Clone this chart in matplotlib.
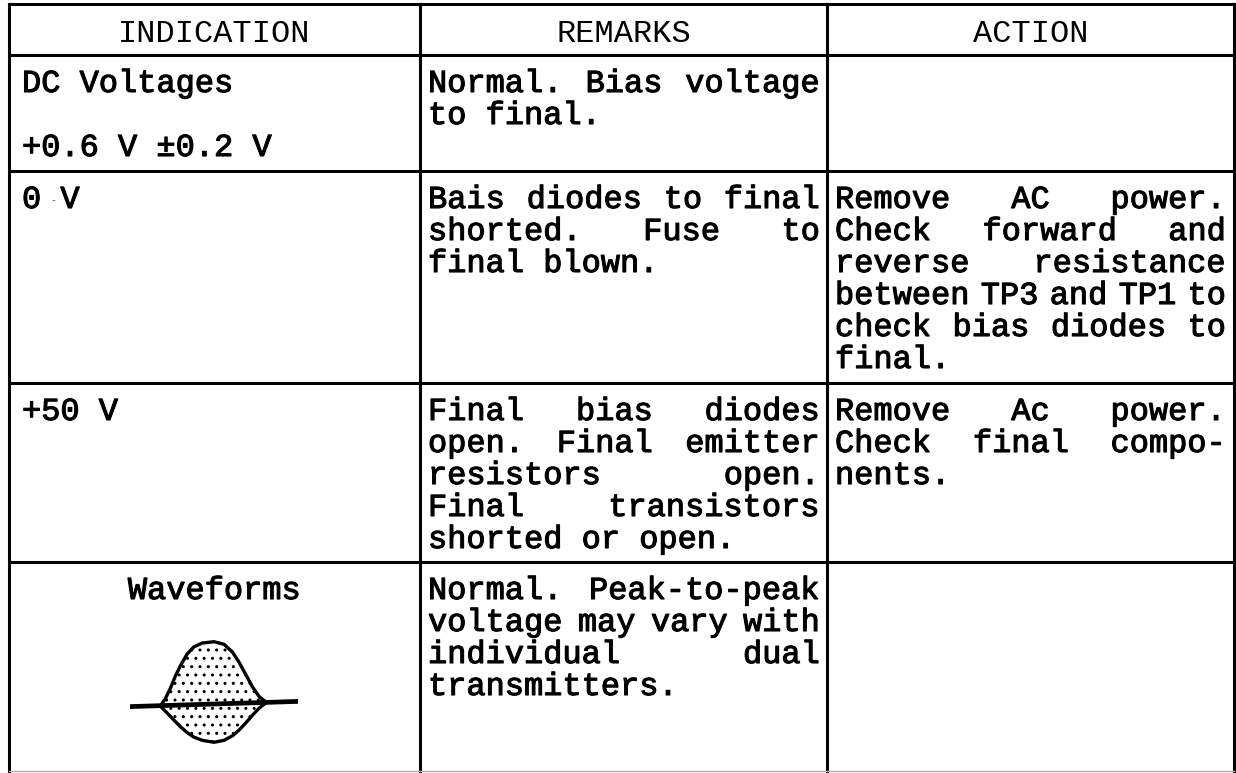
import matplotlib
matplotlib.use("Agg")
import matplotlib.pyplot as plt
import matplotlib.patheffects as pe

plt.rcParams['font.family'] = ['Liberation Mono', 'DejaVu Sans Mono']

headers = ["INDICATION", "REMARKS", "ACTION"]

indication = [
    ["DC Voltages", "", "+0.6 V \u00b10.2 V"],
    ["0 -V"],
    ["+50 V"],
    ["Waveforms"],
]

remarks = [
    ["Normal. Bias voltage", "to final."],
    ["Bais diodes to final", "shorted. Fuse to", "final blown."],
    ["Final bias diodes", "open. Final emitter", "resistors open.",
     "Final transistors", "shorted or open."],
    ["Normal. Peak-to-peak", "voltage may vary with", "individual dual",
     "transmitters."],
]

action = [
    [],
    ["Remove AC power.", "Check forward and", "reverse resistance",
     "between TP3 and TP1 to", "check bias diodes to", "final."],
    ["Remove Ac power.", "Check final compo-", "nents."],
    [],
]

# waveform sketch in the last row (time, upper envelope, lower envelope)
wave_t = [18, 21, 24, 27, 30, 34, 38, 43, 50, 56, 61, 65, 69, 73, 77, 81]
wave_up = [0.01, 0.12, 0.28, 0.47, 0.63, 0.81, 0.92, 0.98, 1.0, 0.96,
           0.84, 0.68, 0.49, 0.30, 0.15, 0.07]
wave_lo = [0.01, -0.07, -0.15, -0.23, -0.31, -0.40, -0.47, -0.52, -0.55,
           -0.52, -0.45, -0.36, -0.25, -0.13, -0.02, 0.06]
wave_base_t = [0, 100]
wave_base = [0.0, 0.08]

# layout in pixels
W, H = 1236, 773
col_x = [9, 420, 827, 1234]
row_y = [4, 55, 171, 383, 562]
cw = 19.2            # character advance
fs = cw / 0.6 * 0.72
first = 37
gap = 32
ink = [pe.withStroke(linewidth=0.8, foreground='black')]

fig = plt.figure(figsize=(W / 100, H / 100), dpi=100)
ax = fig.add_axes([0, 0, 1, 1])
ax.set_xlim(0, W)
ax.set_ylim(H, 0)
ax.axis('off')

lw = 2.2
for x in col_x:
    ax.plot([x, x], [row_y[0], H - 2], color='black', lw=lw, solid_capstyle='projecting')
for y in row_y:
    ax.plot([col_x[0], col_x[-1]], [y, y], color='black', lw=lw, solid_capstyle='projecting')
ax.plot([col_x[0], col_x[-1]], [H - 2, H - 2], color='#b0b0b0', lw=1)

# header
for i, h in enumerate(headers):
    ax.text((col_x[i] + col_x[i + 1]) / 2, 42, h, ha='center', va='baseline',
            fontsize=fs, color='black')


def put(x, y, s, ha='left'):
    ax.text(x, y, s, ha=ha, va='baseline', fontsize=fs, path_effects=ink)


def draw_cell(lines, x0, x1, top):
    for i, line in enumerate(lines):
        y = top + first + i * gap
        words = line.split()
        if not words:
            continue
        if i == len(lines) - 1 or len(words) == 1:
            put(x0, y, line)
            continue
        used = sum(len(w) for w in words) * cw
        g = (x1 - x0 - used) / (len(words) - 1)
        x = x0
        for j, w in enumerate(words):
            if j == len(words) - 1:
                put(x1, y, w, ha='right')
            else:
                put(x, y, w)
            x += len(w) * cw + g


for r in range(4):
    top = row_y[r + 1]
    if r == 3:
        put((col_x[0] + col_x[1]) / 2, top + first, indication[r][0], ha='center')
        continue_ind = False
    for i, line in enumerate(indication[r] if r != 3 else []):
        y = top + first + i * gap
        if "-" in line:
            # faint scan mark between the value and the unit
            a, b = line.split("-")
            put(22, y, a.strip())
            put(22 + 2 * cw, y, b)
            ax.text(53, y - 5, "-", fontsize=7, ha='center', va='baseline',
                    color='#555555')
        else:
            put(22, y, line)
    draw_cell(remarks[r], 428, 820, top)
    draw_cell(action[r], 835, 1226, top)

# waveform icon
wax = fig.add_axes([130 / W, (H - 752) / H, 168 / W, 120 / H])
wax.set_xlim(0, 100)
wax.set_ylim(-0.7, 1.15)
wax.axis('off')
wax.fill_between(wave_t, wave_lo, wave_up, facecolor='white', edgecolor='black',
                 hatch='..', lw=0)
wax.plot(wave_t, wave_up, color='black', lw=2.4, solid_joinstyle='round')
wax.plot(wave_t, wave_lo, color='black', lw=2.4, solid_joinstyle='round')
wax.plot(wave_base_t, wave_base, color='black', lw=3.4, solid_capstyle='round')

fig.savefig("out.png", dpi=100, facecolor='white')
